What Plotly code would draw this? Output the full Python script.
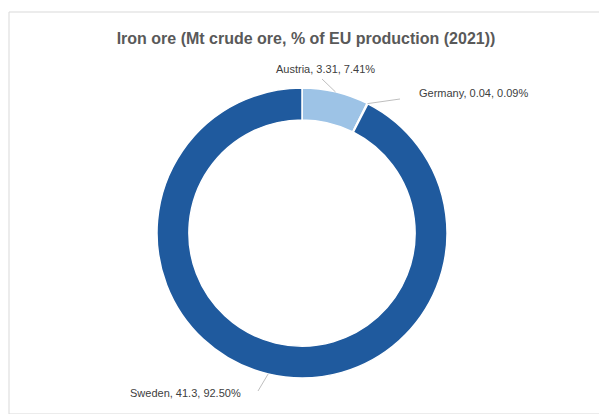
import math
import plotly.graph_objects as go

# Iron ore production, Mt crude ore (2021)
countries = ["Austria", "Germany", "Sweden"]
production_mt = [3.31, 0.04, 41.3]
share_labels = ["7.41%", "0.09%", "92.50%"]
colors = ["#9dc3e6", "#4a7fc0", "#1f5a9e"]

W, H = 599, 414
cx, cy, r_out = 302, 233, 145  # donut centre / radius in pixels

fig = go.Figure(go.Pie(
    labels=countries,
    values=production_mt,
    hole=0.78,
    sort=False,
    direction="clockwise",
    rotation=0,
    textinfo="none",
    hoverinfo="label+value+percent",
    marker=dict(colors=colors, line=dict(color="white", width=1.5)),
    domain=dict(x=[(cx - r_out) / W, (cx + r_out) / W],
                y=[(H - cy - r_out) / H, (H - cy + r_out) / H]),
    showlegend=False,
))

# label placement (pixel coords of text centre and leader end)
label_pos = {
    "Austria": (325, 69, 322, 79),
    "Germany": (473, 93, 400, 99),
    "Sweden": (185, 393, 258, 391),
}

total = sum(production_mt)
cum = 0.0
annotations = []
shapes = []
for name, val, pct in zip(countries, production_mt, share_labels):
    mid = (cum + val / 2) / total * 2 * math.pi
    cum += val
    sx = cx + r_out * math.sin(mid)
    sy = cy - r_out * math.cos(mid)
    tx, ty, ex, ey = label_pos[name]
    annotations.append(dict(
        x=tx / W, y=1 - ty / H, xref="paper", yref="paper",
        text=f"{name}, {val:g}, {pct}", showarrow=False,
        font=dict(family="Liberation Sans, Arial", size=11, color="#404040"),
        xanchor="center", yanchor="middle",
    ))
    shapes.append(dict(
        type="line", xref="paper", yref="paper",
        x0=sx / W, y0=1 - sy / H, x1=ex / W, y1=1 - ey / H,
        line=dict(color="#bfbfbf", width=1),
    ))

# chart-area frame
shapes.append(dict(type="rect", xref="paper", yref="paper",
                   x0=9 / W, y0=0, x1=1.01, y1=1 - 12 / H,
                   line=dict(color="#d9d9d9", width=1), layer="below"))

fig.update_layout(
    width=W, height=H,
    margin=dict(l=0, r=0, t=0, b=0),
    paper_bgcolor="white",
    plot_bgcolor="white",
    title=dict(
        text="<b>Iron ore (Mt crude ore, % of EU production (2021))</b>",
        x=306 / W, xanchor="center", y=1 - 38 / H, yanchor="middle",
        font=dict(family="Liberation Sans, Arial", size=16, color="#595959"),
    ),
    annotations=annotations,
    shapes=shapes,
)

fig.write_html("out.html")
